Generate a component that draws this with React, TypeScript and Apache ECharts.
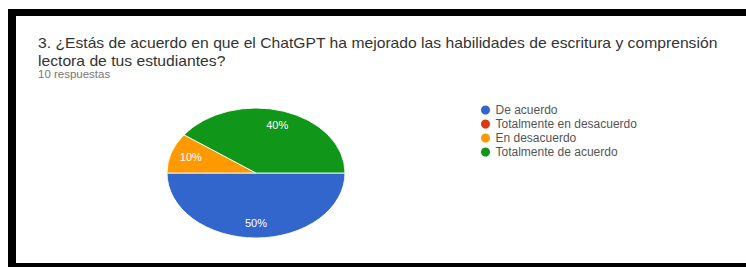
import React, { useEffect, useRef } from "react";
import * as echarts from "echarts";

const TITLE_LINES = [
  "3. ¿Estás de acuerdo en que el ChatGPT ha mejorado las habilidades de escritura y comprensión",
  "lectora de tus estudiantes?",
];
const SUBTITLE = "10 respuestas";
const CATEGORIES = ["De acuerdo", "Totalmente en desacuerdo", "En desacuerdo", "Totalmente de acuerdo"];
const VALUES = [50, 0, 10, 40];
const COLORS = ["#3366cc", "#dc3912", "#ff9900", "#109618"];

const CX = 256;
const CY = 173;
const RX = 89;
const RY = 65;
const LABEL_FRAC = 0.77;
const FONT = "'Liberation Sans', Arial, sans-serif";

export default function App() {
  const ref = useRef<HTMLDivElement>(null);
  useEffect(() => {
    if (!ref.current) return;
    const chart = echarts.init(ref.current, undefined, { renderer: "svg" });
    const total = VALUES.reduce((a, b) => a + b, 0);
    const series = CATEGORIES.map((name, i) => {
      const offset = VALUES.slice(0, i).reduce((a, b) => a + b, 0);
      return {
        type: "custom",
        name,
        coordinateSystem: "none",
        itemStyle: { color: COLORS[i] },
        data: [[VALUES[i]]],
        renderItem: (params: any, api: any) => {
          const v = api.value(0);
          if (!v) return { type: "group", children: [] };
          const start = (offset / total) * Math.PI * 2;
          const end = ((offset + v) / total) * Math.PI * 2;
          const mid = (start + end) / 2;
          const pct = Math.round((v / total) * 100) + "%";
          return {
            type: "group",
            children: [
              {
                type: "group",
                x: CX,
                y: CY,
                scaleY: RY / RX,
                children: [
                  {
                    type: "sector",
                    shape: { cx: 0, cy: 0, r: RX, r0: 0, startAngle: start, endAngle: end, clockwise: true },
                    style: { fill: COLORS[i], stroke: "#ffffff", lineWidth: 1 },
                  },
                ],
              },
              {
                type: "text",
                x: CX + Math.cos(mid) * RX * LABEL_FRAC,
                y: CY + Math.sin(mid) * RY * LABEL_FRAC,
                scaleX: 1.1,
                style: {
                  text: pct,
                  fill: "#ffffff",
                  fontSize: 10,
                  fontFamily: FONT,
                  align: "center",
                  verticalAlign: "middle",
                },
              },
            ],
          };
        },
      };
    });
    chart.setOption({
      animation: false,
      backgroundColor: "#ffffff",
      legend: {
        orient: "vertical",
        left: 481,
        top: 103,
        padding: 0,
        itemGap: 0,
        itemWidth: 10,
        itemHeight: 9,
        icon: "circle",
        data: CATEGORIES,
        textStyle: { fontSize: 12, color: "#555555", lineHeight: 14, fontFamily: FONT },
      },
      graphic: [
        { type: "rect", shape: { x: 8, y: 9, width: 738, height: 7 }, style: { fill: "#000000" } },
        { type: "rect", shape: { x: 8, y: 9, width: 8, height: 258 }, style: { fill: "#000000" } },
        { type: "rect", shape: { x: 8, y: 263, width: 738, height: 4 }, style: { fill: "#000000" } },
        {
          type: "text",
          x: 38,
          y: 43,
          scaleX: 1.12,
          style: { text: TITLE_LINES[0], fontSize: 14, fill: "#333333", fontFamily: FONT, verticalAlign: "middle" },
        },
        {
          type: "text",
          x: 38,
          y: 61,
          scaleX: 1.12,
          style: { text: TITLE_LINES[1], fontSize: 14, fill: "#333333", fontFamily: FONT, verticalAlign: "middle" },
        },
        {
          type: "text",
          x: 38,
          y: 74,
          scaleX: 1.15,
          style: { text: SUBTITLE, fontSize: 10, fill: "#777777", fontFamily: FONT, verticalAlign: "middle" },
        },
      ],
      series,
    });
    return () => chart.dispose();
  }, []);
  return <div ref={ref} style={{ position: "fixed", left: 0, top: 0, width: 746, height: 267 }} />;
}
